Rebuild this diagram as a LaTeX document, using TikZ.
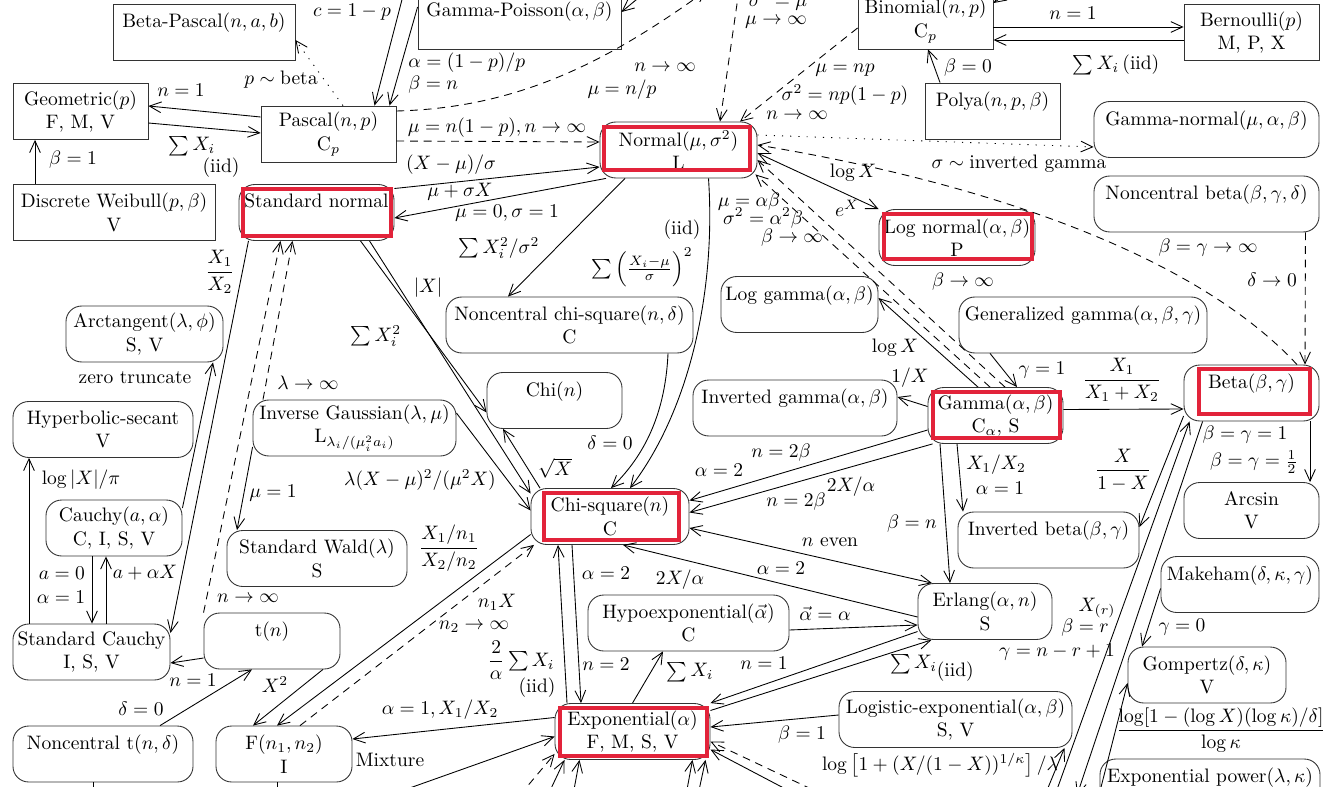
\documentclass[tikz,border=0pt]{standalone}
\usepackage{amsmath}
\usetikzlibrary{arrows.meta}
\definecolor{hlred}{RGB}{226,35,58}
\tikzset{
  sqbox/.style={draw=black!80, minimum height=28.7pt, align=center, inner sep=2pt},
  rdbox/.style={sqbox, rounded corners=8pt},
  wd/.style={minimum width=#1*0.513pt},
  hilite/.style={draw=hlred, line width=2pt},
  lbl/.style={inner sep=0pt},
  dotline/.style={dash pattern=on 0.6pt off 3.6pt},
  dashline/.style={dash pattern=on 4pt off 3pt},
}
\begin{document}
\begin{tikzpicture}[x=0.513pt,y=-0.513pt,>={Straight Barb[length=6pt,width=5.5pt]},line width=0.45pt]
\useasboundingbox (0,0) rectangle (1342,787);
\clip (0,0) rectangle (1342,787);
% discrete ones (square boxes)
\node[sqbox,wd=182] (betapascal) at (204,32) {Beta-Pascal$(n,a,b)$\\\phantom{X}};
\node[sqbox,wd=203] (gammapoisson) at (519.5,21) {Gamma-Poisson$(\alpha,\beta)$\\\phantom{X}};
\node[sqbox,wd=135] (binomial) at (925.5,21) {Binomial$(n,p)$\\C$_p$};
\node[sqbox,wd=135] (bernoulli) at (1251.5,32.5) {Bernoulli$(p)$\\M, P, X};
\node[sqbox,wd=135] (geometric) at (80.5,111.5) {Geometric$(p)$\\F, M, V};
\node[sqbox,wd=135] (pascal) at (328.5,134) {Pascal$(n,p)$\\C$_p$};
\node[sqbox,wd=135] (polya) at (992.5,111) {Polya$(n,p,\beta)$\\\phantom{X}};
\node[sqbox,wd=202] (dweibull) at (114,212.5) {Discrete Weibull$(p,\beta)$\\V};
% continuous ones (rounded boxes)
\node[rdbox,wd=157] (normal) at (678.5,150) {Normal$(\mu,\sigma^2)$\\L};
\node[rdbox,wd=225] (gammanormal) at (1206.5,129.5) {Gamma-normal$(\mu,\alpha,\beta)$\\\phantom{X}};
\node[rdbox,wd=155] (stdnormal) at (316.5,212.5) {Standard normal\\\phantom{X}};
\node[rdbox,wd=225] (ncbeta) at (1206.5,204) {Noncentral beta$(\beta,\gamma,\delta)$\\\phantom{X}};
\node[rdbox,wd=156] (lognormal) at (957,237.5) {Log normal$(\alpha,\beta)$\\P};
\node[rdbox,wd=157] (loggamma) at (799.5,304.5) {Log gamma$(\alpha,\beta)$\\\phantom{X}};
\node[rdbox,wd=248] (gengamma) at (1083,325) {Generalized gamma$(\alpha,\beta,\gamma)$\\\phantom{X}};
\node[rdbox,wd=247] (ncchisq) at (569.5,325) {Noncentral chi-square$(n,\delta)$\\C};
\node[rdbox,wd=157] (arctan) at (144.5,334) {Arctangent$(\lambda,\phi)$\\S, V};
\node[rdbox,wd=135] (chi) at (554.5,400.5) {Chi$(n)$\\\phantom{X}};
\node[rdbox,wd=204] (invgamma) at (795,408) {Inverted gamma$(\alpha,\beta)$\\\phantom{X}};
\node[rdbox,wd=135] (gamma) at (995.5,415.5) {Gamma$(\alpha,\beta)$\\C$_\alpha$, S};
\node[rdbox,wd=135] (beta) at (1251.5,393) {Beta$(\beta,\gamma)$\\\phantom{X}};
\node[rdbox,wd=180] (hypsec) at (103,429.5) {Hyperbolic-secant\\V};
\node[rdbox,wd=203] (invgauss) at (354.5,428) {Inverse Gaussian$(\lambda,\mu)$\\L$_{\lambda_i/(\mu_i^2a_i)}$};
\node[rdbox,wd=158] (chisq) at (610,516.5) {Chi-square$(n)$\\C};
\node[rdbox,wd=136] (cauchy) at (114,528) {Cauchy$(a,\alpha)$\\C, I, S, V};
\node[rdbox,wd=181] (invbeta) at (1048.5,540) {Inverted beta$(\beta,\gamma)$\\\phantom{X}};
\node[rdbox,wd=135] (arcsin) at (1251.5,510.5) {Arcsin\\V};
\node[rdbox,wd=180] (stdwald) at (317,558.5) {Standard Wald$(\lambda)$\\S};
\node[rdbox,wd=158] (makeham) at (1240,584.5) {Makeham$(\delta,\kappa,\gamma)$\\\phantom{X}};
\node[rdbox,wd=134] (erlang) at (985,611.5) {Erlang$(\alpha,n)$\\S};
\node[rdbox,wd=201] (hypoexp) at (688.5,623) {Hypoexponential$(\vec{\alpha})$\\C};
\node[rdbox,wd=157] (stdcauchy) at (91.5,652) {Standard Cauchy\\I, S, V};
\node[rdbox,wd=136] (tdist) at (272,641) {t$(n)$\\\phantom{X}};
\node[rdbox,wd=158] (gompertz) at (1207,675) {Gompertz$(\delta,\kappa)$\\V};
\node[rdbox,wd=233] (logexp) at (955.5,719.5) {Logistic-exponential$(\alpha,\beta)$\\S, V};
\node[rdbox,wd=155] (expo) at (632.5,731.5) {Exponential$(\alpha)$\\F, M, S, V};
\node[rdbox,wd=180] (nct) at (103,754) {Noncentral t$(n,\delta)$\\\phantom{X}};
\node[rdbox,wd=136] (fdist) at (284,754) {F$(n_1,n_2)$\\I};
\node[rdbox,wd=220] (exppower) at (1210,787) {Exponential power$(\lambda,\kappa)$\\\phantom{X}};
% red marks
\draw[hilite] (604,127) rectangle (750,170);
\draw[hilite] (243,189) rectangle (391,236);
\draw[hilite] (884,214) rectangle (1032,259);
\draw[hilite] (933,392) rectangle (1060,438);
\draw[hilite] (1199,369) rectangle (1310,414);
\draw[hilite] (544,493) rectangle (679,540);
\draw[hilite] (560,708) rectangle (707,756);
% free ends outside the picture
\coordinate (top1) at (405,-12);
\coordinate (top2) at (648,-10);
\coordinate (top3) at (707,-10);
\coordinate (top4) at (739,-10);
\coordinate (top5) at (1012,-10);
\coordinate (bot1) at (390,795);
\coordinate (bot2) at (520,795);
\coordinate (bot3) at (548,795);
\coordinate (bot4) at (573,795);
\coordinate (bot5) at (686,795);
\coordinate (bot6) at (698,795);
\coordinate (bot7) at (797,795);
\coordinate (bot8) at (824,795);
\coordinate (bot9) at (1045,795);
\coordinate (bot10) at (1055,795);
\coordinate (bot11) at (1077,795);
\coordinate (bot12) at (1099,795);
\coordinate (bot13) at (93,800);
\coordinate (bot14) at (277,800);
% top left
\draw[->] (top1) -- ([shift={(46,0)}]pascal.north);
\draw[->] ([shift={(0,-14)}]gammapoisson.west) -- ([shift={(61,0)}]pascal.north);
\draw[->] (top2) -- ([shift={(0,-9)}]gammapoisson.east);
\draw[->,dotline] ([shift={(14.5,0)}]pascal.north) -- ([shift={(0,8)}]betapascal.east);
\draw[->] ([shift={(0,-17)}]pascal.west) -- ([shift={(0,-5.5)}]geometric.east);
\draw[->] ([shift={(0,11.5)}]geometric.east) -- ([shift={(0,-1)}]pascal.west);
\draw[->] ([shift={(-79,0)}]dweibull.north) -- ([shift={(-45.5,0)}]geometric.south);
\draw[->,dashline] ([shift={(0,7)}]pascal.east) -- ([shift={(0,-8)}]normal.west);
\draw[->,dashline] ([shift={(0,-23)}]pascal.east) .. controls (520,108) and (610,60) .. (top3);
% top right
\draw[->,dashline] (top4) -- ([shift={(41.5,0)}]normal.north);
\draw[->,dashline] ([shift={(0,7)}]binomial.west) -- ([shift={(61.5,0)}]normal.north);
\draw[->] ([shift={(0,6)}]binomial.east) -- ([shift={(0,-5.5)}]bernoulli.west);
\draw[->] ([shift={(0,7.5)}]bernoulli.west) -- ([shift={(0,19)}]binomial.east);
\draw[->] (top5) -- ([shift={(0,-18)}]binomial.east);
\draw[->] ([shift={(-52.5,0)}]polya.north) -- ([shift={(2.5,0)}]binomial.south);
% normal
\draw[->] ([shift={(0,-24)}]stdnormal.east) -- ([shift={(0,17)}]normal.west);
\draw[->] ([shift={(-72.5,0)}]normal.south) -- ([shift={(0,5.5)}]stdnormal.east);
\draw[->,dotline] ([shift={(0,-15)}]normal.east) -- ([shift={(0,17.5)}]gammanormal.west);
\draw[->,dashline] ([shift={(45.5,0)}]beta.north) .. controls (1200,260) and (1000,185) .. ([shift={(0,-5)}]normal.east);
\draw[->,dashline] ([shift={(-14,0)}]ncbeta.south east) -- ([shift={(53.5,0)}]beta.north);
\draw[<->] (lognormal.north west) -- ([shift={(0,3)}]normal.east);
\draw[->,dashline] ([shift={(-5.5,0)}]gamma.north) -- ([shift={(-2,-4)}]normal.south east);
\draw[->,dashline] ([shift={(9.5,0)}]gamma.north) -- ([shift={(0,10)}]normal.east);
\draw[->] ([shift={(-53.5,0)}]normal.south) -- ([shift={(-61.5,0)}]ncchisq.north);
\draw[->] ([shift={(30,0)}]normal.south) .. controls (716,290) and (690,410) .. ([shift={(20,0)}]chisq.north);
\draw[->] ([shift={(98.5,0)}]ncchisq.south) .. controls (665,420) and (640,460) .. ([shift={(1,0)}]chisq.north);
% standard normal
\draw[->] ([shift={(44,0)}]stdnormal.south) -- ([shift={(0,12)}]chi.west);
\draw[->] ([shift={(53,0)}]stdnormal.south) -- ([shift={(0,-23)}]chisq.west);
\draw[->,dashline] (tdist.north west) -- ([shift={(-36,0)}]stdnormal.south);
\draw[->,dashline] ([shift={(-91.5,0)}]invgauss.north) -- ([shift={(-24,0)}]stdnormal.south);
\draw[->] ([shift={(-68,0)}]stdnormal.south) -- ([shift={(0,-19)}]stdcauchy.east);
\draw[->] ([shift={(0,-15)}]invgauss.east) -- ([shift={(0,-6)}]chisq.west);
\draw[->] ([shift={(-70,0)}]chisq.north) -- ([shift={(-51.5,0)}]chi.south);
% left column
\draw[->] ([shift={(0,-20)}]cauchy.east) -- ([shift={(68.5,0)}]arctan.south);
\draw[->] ([shift={(-62.5,0)}]stdcauchy.north) -- ([shift={(-74,0)}]hypsec.south);
\draw[->] ([shift={(-22,0)}]cauchy.south) -- ([shift={(0.5,0)}]stdcauchy.north);
\draw[->] ([shift={(14.5,0)}]stdcauchy.north) -- ([shift={(-8,0)}]cauchy.south);
\draw[->] ([shift={(0,19)}]invgauss.west) -- ([shift={(-80,0)}]stdwald.north);
\draw[->] ([shift={(0,17)}]tdist.west) -- ([shift={(0,11)}]stdcauchy.east);
\draw[->] ([shift={(57,0)}]nct.north) -- ([shift={(-20,0)}]tdist.south);
\draw[->] ([shift={(51,0)}]tdist.south) -- ([shift={(-31,0)}]fdist.north);
\draw[->] ([shift={(0,18)}]chisq.west) -- ([shift={(-7,0)}]fdist.north);
\draw[->,dashline] ([shift={(16,0)}]fdist.north) -- ([shift={(-76,0)}]chisq.south);
\draw[->] ([shift={(0,-14)}]expo.west) -- ([shift={(0,-15)}]fdist.east);
\draw[->] (bot1) -- ([shift={(0,5)}]expo.west);
\draw[->] ([shift={(-10,0)}]nct.south) -- (bot13);
\draw[->] ([shift={(-7,0)}]fdist.south) -- (bot14);
% exponential and chi-square
\draw[->] ([shift={(-65.5,0)}]expo.north) -- ([shift={(-52,0)}]chisq.south);
\draw[->] ([shift={(-38,0)}]chisq.south) -- ([shift={(-51.5,0)}]expo.north);
\draw[->] (expo.north) -- ([shift={(-25.5,0)}]hypoexp.south);
\draw[->] ([shift={(0,7)}]hypoexp.east) -- ([shift={(0,13.5)}]erlang.west);
\draw[<->] ([shift={(0,11.5)}]chisq.east) -- ([shift={(-53,0)}]erlang.north);
\draw[->] ([shift={(0,5.5)}]erlang.west) -- ([shift={(13,0)}]chisq.south);
\draw[->] ([shift={(0,20)}]erlang.west) -- (expo.north east);
\draw[->] ([shift={(0,-21)}]expo.east) -- ([shift={(14,0)}]erlang.south west);
\draw[->] ([shift={(0,-4.5)}]logexp.west) -- ([shift={(0,-4.5)}]expo.east);
\draw[->,dashline] (bot8) -- ([shift={(0,10)}]expo.east);
\draw[->] (bot7) -- ([shift={(0,18)}]expo.east);
\draw[->,dashline] (bot2) -- ([shift={(0,-6)}]expo.south west);
\draw[->] (bot3) -- ([shift={(-68,0)}]expo.south);
\draw[->] (bot4) -- ([shift={(-53,0)}]expo.south);
\draw[->] (bot5) -- ([shift={(60,0)}]expo.south);
\draw[->] (bot6) -- ([shift={(73,0)}]expo.south);
% gamma
\draw[->] ([shift={(-55.5,0)}]gamma.south) -- ([shift={(-35,0)}]erlang.north);
\draw[->] ([shift={(-38.5,0)}]gamma.south) -- ([shift={(-85.5,0)}]invbeta.north);
\draw[->] ([shift={(0,14.5)}]gamma.west) -- ([shift={(0,-16)}]chisq.east);
\draw[->] ([shift={(5,0)}]gamma.south west) -- ([shift={(0,-4)}]chisq.east);
\draw[->] ([shift={(0,-9)}]gamma.west) -- ([shift={(0,-11)}]invgamma.east);
\draw[->] ([shift={(-17.5,0)}]gamma.north) -- ([shift={(0,-6.5)}]loggamma.east);
\draw[->] ([shift={(-93,0)}]gengamma.south) -- ([shift={(21.5,0)}]gamma.north);
\draw[->] ([shift={(0,-6)}]gamma.east) -- ([shift={(0,16)}]beta.west);
% beta and right column
\draw[->] ([shift={(58.5,0)}]beta.south) -- ([shift={(58.5,0)}]arcsin.north);
\draw[->] ([shift={(0,23)}]beta.west) -- ([shift={(0,-13)}]invbeta.east);
\draw[->] (bot10) -- ([shift={(6,0)}]beta.south west);
\draw[->] ([shift={(19,0)}]beta.south west) -- (bot11);
\draw[->] ([shift={(0,4)}]makeham.west) -- ([shift={(-65,0)}]gompertz.north);
\draw[->] (bot12) -- ([shift={(0,8)}]gompertz.west);
\draw[->] (bot9) -- ([shift={(-8,0)}]logexp.south east);
% labels
\node[lbl] (lb1) at (352,12) {$c=1-p$};
\node[lbl,anchor=west] (lb2) at (408,63) {$\alpha=(1-p)/p$};
\node[lbl,anchor=west] (lb3) at (408,85) {$\beta=n$};
\node[lbl] (lb4) at (281,80) {$p\sim\mathrm{beta}$};
\node[lbl] (lb5) at (181,90) {$n=1$};
\node[lbl] (lb6) at (192,146) {$\sum X_i$};
\node[lbl] (lb7) at (221,168) {(iid)};
\node[lbl] (lb8) at (73,160) {$\beta=1$};
\node[lbl] (lb9) at (497,128) {$\mu=n(1-p), n\to\infty$};
\node[lbl] (lb10) at (665,67) {$n\to\infty$};
\node[lbl] (lb11) at (622,90) {$\mu=n/p$};
\node[lbl] (lb12) at (778,0) {$\sigma^2=\mu$};
\node[lbl] (lb13) at (776,22) {$\mu\to\infty$};
\node[lbl] (lb14) at (845,70) {$\mu=np$};
\node[lbl] (lb15) at (845,95) {$\sigma^2=np(1-p)$};
\node[lbl] (lb16) at (797,115) {$n\to\infty$};
\node[lbl] (lb17) at (1073,13) {$n=1$};
\node[lbl] (lb18) at (1116,65) {$\sum X_i\,$(iid)};
\node[lbl] (lb19) at (968,68) {$\beta=0$};
\node[lbl] (lb20) at (451,165) {$(X-\mu)/\sigma$};
\node[lbl] (lb21) at (460,192) {$\mu+\sigma X$};
\node[lbl] (lb22) at (507,213) {$\mu=0,\sigma=1$};
\node[lbl] (lb23) at (1019,164) {$\sigma\sim{}$inverted gamma};
\node[lbl] (lb24) at (1208,248) {$\beta=\gamma\to\infty$};
\node[lbl] (lb25) at (1272,280) {$\delta\to0$};
\node[lbl] (lb26) at (853,173) {$\log X$};
\node[lbl] (lb27) at (847,208) {$e^X$};
\node[lbl] (lb28) at (749,202) {$\mu=\alpha\beta$};
\node[lbl] (lb29) at (763,218) {$\sigma^2=\alpha^2\beta$};
\node[lbl] (lb30) at (792,238) {$\beta\to\infty$};
\node[lbl] (lb31) at (682,230) {(iid)};
\node[lbl] (lb32) at (963,282) {$\beta\to\infty$};
\node[lbl] (lb33) at (499,248) {$\sum X_i^2/\sigma^2$};
\node[lbl] (lb34) at (642,267) {$\sum\left(\frac{X_i-\mu}{\sigma}\right)^2$};
\node[lbl] (lb35) at (610,443) {$\delta=0$};
\node[lbl] (lb36) at (428,288) {$|X|$};
\node[lbl] (lb37) at (376,336) {$\sum X_i^2$};
\node[lbl] (lb38) at (308,383) {$\lambda\to\infty$};
\node[lbl] (lb39) at (420,480) {$\lambda(X-\mu)^2/(\mu^2X)$};
\node[lbl] (lb40) at (555,468) {$\sqrt{X}$};
\node[lbl] (lb41) at (220,272) {$\dfrac{X_1}{X_2}$};
\node[lbl] (lb42) at (135,378) {zero truncate};
\node[lbl] (lb43) at (81,480) {$\log|X|/\pi$};
\node[lbl] (lb44) at (62,573) {$a=0$};
\node[lbl] (lb45) at (61,597) {$\alpha=1$};
\node[lbl] (lb46) at (145,573) {$a+\alpha X$};
\node[lbl] (lb47) at (273,493) {$\mu=1$};
\node[lbl] (lb48) at (248,598) {$n\to\infty$};
\node[lbl] (lb49) at (193,680) {$n=1$};
\node[lbl] (lb50) at (141,709) {$\delta=0$};
\node[lbl] (lb51) at (275,685) {$X^2$};
\node[lbl] (lb52) at (449,548) {$\dfrac{X_1/n_1}{X_2/n_2}$};
\node[lbl] (lb53) at (497,602) {$n_1X$};
\node[lbl] (lb54) at (474,627) {$n_2\to\infty$};
\node[lbl] (lb55) at (521,660) {$\dfrac{2}{\alpha}\sum X_i$};
\node[lbl] (lb56) at (537,688) {(iid)};
\node[lbl] (lb57) at (440,710) {$\alpha=1, X_1/X_2$};
\node[lbl] (lb58) at (390,760) {Mixture};
\node[lbl] (lb59) at (606,573) {$\alpha=2$};
\node[lbl] (lb60) at (606,664) {$n=2$};
\node[lbl] (lb61) at (680,580) {$2X/\alpha$};
\node[lbl] (lb62) at (690,672) {$\sum X_i$};
\node[lbl] (lb63) at (825,614) {$\vec{\alpha}=\alpha$};
\node[lbl] (lb64) at (830,542) {$n$ even};
\node[lbl] (lb65) at (781,568) {$\alpha=2$};
\node[lbl] (lb66) at (764,663) {$n=1$};
\node[lbl] (lb67) at (932,668) {$\sum X_i$\raisebox{-4pt}{(iid)}};
\node[lbl] (lb68) at (802,735) {$\beta=1$};
\node[lbl] (lb69) at (940,765) {$\log\left[1+(X/(1-X))^{1/\kappa}\right]/\lambda$};
\node[lbl] (lb70) at (912,524) {$\beta=n$};
\node[lbl] (lb71) at (996,465) {$X_1/X_2$};
\node[lbl] (lb72) at (1000,488) {$\alpha=1$};
\node[lbl] (lb73) at (719,470) {$\alpha=2$};
\node[lbl] (lb74) at (781,453) {$n=2\beta$};
\node[lbl] (lb75) at (851,487) {$2X/\alpha$};
\node[lbl] (lb76) at (796,502) {$n=2\beta$};
\node[lbl] (lb77) at (910,378) {$1/X$};
\node[lbl] (lb78) at (895,348) {$\log X$};
\node[lbl] (lb79) at (1042,370) {$\gamma=1$};
\node[lbl] (lb80) at (1122,380) {$\dfrac{X_1}{X_1+X_2}$};
\node[lbl] (lb81) at (1245,435) {$\beta=\gamma=1$};
\node[lbl] (lb82) at (1254,462) {$\beta=\gamma=\frac{1}{2}$};
\node[lbl] (lb83) at (1123,470) {$\dfrac{X}{1-X}$};
\node[lbl] (lb84) at (1097,608) {$X_{(r)}$};
\node[lbl] (lb85) at (1085,628) {$\beta=r$};
\node[lbl] (lb86) at (1057,652) {$\gamma=n-r+1$};
\node[lbl] (lb87) at (1182,627) {$\gamma=0$};
\node[lbl] (lb88) at (1221,730) {$\dfrac{\log[1-(\log X)(\log\kappa)/\delta]}{\log\kappa}$};
\end{tikzpicture}
\end{document}
